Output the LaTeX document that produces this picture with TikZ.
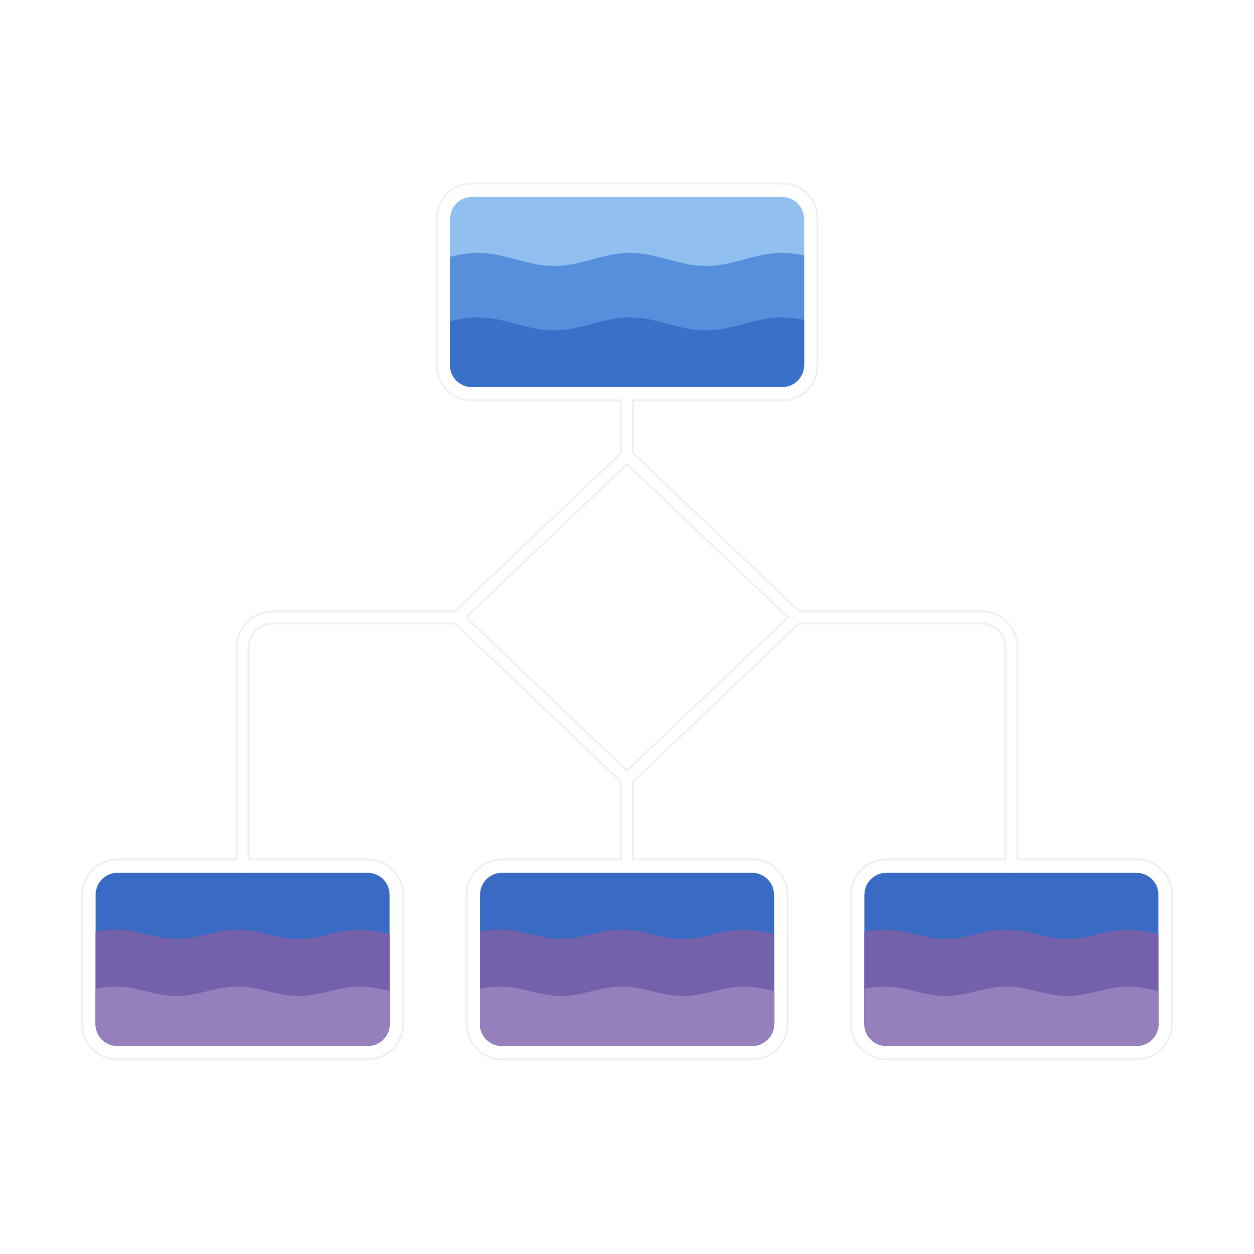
\documentclass[tikz,border=0pt]{standalone}
\usepackage{tikz}
\usetikzlibrary{positioning}
\usetikzlibrary{shapes.geometric}
\usetikzlibrary{calc}

\definecolor{skyblue}{HTML}{91BFF0}
\definecolor{midblue}{HTML}{568FDC}
\definecolor{deepblue}{HTML}{3B70C8}
\definecolor{leafblue}{HTML}{3A6BC4}
\definecolor{leafpurple}{HTML}{7461AC}
\definecolor{leaflilac}{HTML}{9580BD}
\definecolor{wireedge}{HTML}{EFF0F3}

\pgfdeclarelayer{bg}
\pgfsetlayers{bg,main}

\begin{document}
\begin{tikzpicture}[
 box/.style={rectangle, rounded corners=0.22cm, inner sep=0pt, fill=white,
 preaction={draw=wireedge, line width=0.29cm},
 preaction={draw=white, line width=0.25cm}},
 % waves: colours, wave heights from the centre, phase, period, amplitude
 waves/.style n args={8}{path picture={
 \fill[#1, sharp corners] (-2.5,-1.5) rectangle (2.5,1.5);
 \fill[#2, sharp corners] plot[domain=-2.2:2.2, samples=120] (\x,{#4+#8*cos(360*(\x-#6)/#7)}) -- (2.2,-1.5) -- (-2.2,-1.5) -- cycle;
 \fill[#3, sharp corners] plot[domain=-2.2:2.2, samples=120] (\x,{#5+#8*cos(360*(\x-#6)/#7)}) -- (2.2,-1.5) -- (-2.2,-1.5) -- cycle;
 }},
 source/.style={box, minimum width=3.54cm, minimum height=1.90cm,
 waves={skyblue}{midblue}{deepblue}{0.325}{-0.32}{0.03}{1.52}{0.065}},
 leaf/.style={box, minimum width=2.94cm, minimum height=1.73cm,
 waves={leafblue}{leafpurple}{leaflilac}{0.25}{-0.32}{-0.05}{1.22}{0.047}},
 wire edge/.style={draw=wireedge, line width=0.14cm, line join=miter},
 wire/.style={draw=white, line width=0.10cm, line join=miter},
 elbow/.style={rounded corners=0.3cm}
]
\useasboundingbox (0,0) rectangle (12.54,12.54);

% Source box
\node[source] (src) at (6.27,9.62) {};

% Decision diamond
\node[diamond, draw=none, inner sep=0pt, minimum width=3.38cm, minimum height=3.22cm,
 below=0.68cm of src] (gate) {};

% Leaf boxes
\node[leaf, below=0.93cm of gate] (mid) {};
\node[leaf, left=0.89cm of mid] (west) {};
\node[leaf, right=0.89cm of mid] (east) {};

% Connector outlines
\begin{pgfonlayer}{bg}
\draw[wire edge] (src.south) -- (gate.north);
\draw[wire edge] (gate.north) -- (gate.east) -- (gate.south) -- (gate.west) -- cycle;
\draw[wire edge] (gate.south) -- (mid.north);
\draw[wire edge, elbow] (gate.west) -| (west.north);
\draw[wire edge, elbow] (gate.east) -| (east.north);
\end{pgfonlayer}

% Connectors
\draw[wire] (src.south) -- (gate.north);
\draw[wire] (gate.north) -- (gate.east) -- (gate.south) -- (gate.west) -- cycle;
\draw[wire] (gate.south) -- (mid.north);
\draw[wire, elbow] (gate.west) -| (west.north);
\draw[wire, elbow] (gate.east) -| (east.north);
\end{tikzpicture}
\end{document}
